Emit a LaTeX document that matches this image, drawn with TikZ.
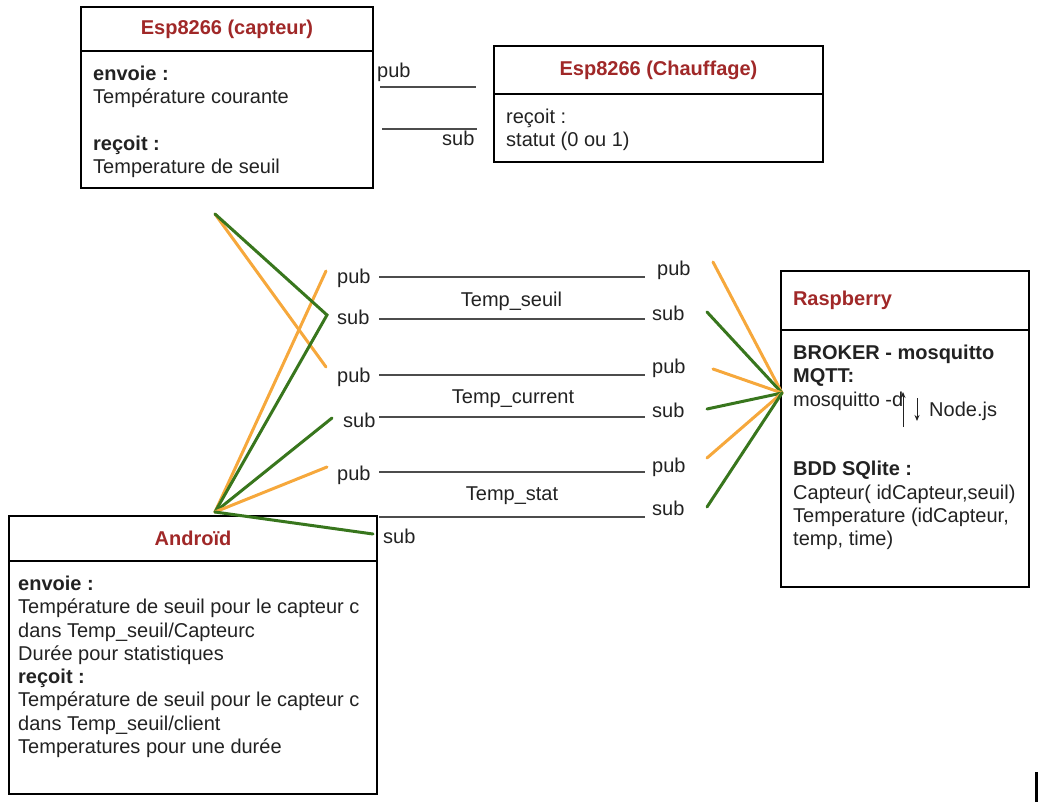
\documentclass[tikz,border=0pt]{standalone}
\usepackage{fontspec}
\setmainfont{Liberation Sans}
\usepackage{xcolor}
\usetikzlibrary{positioning, arrows.meta}

\definecolor{titlered}{RGB}{160,40,40}
\definecolor{puborange}{RGB}{246,168,60}
\definecolor{subgreen}{RGB}{56,118,29}
\definecolor{txtgray}{RGB}{34,34,34}

\begin{document}
\begin{tikzpicture}[
        x=1pt, y=-1pt,
        font=\fontsize{20}{23.3}\selectfont,
        boxhead/.style={rectangle, draw, line width=2.8pt, outer sep=0pt, text=titlered, font=\fontsize{20}{23.3}\selectfont\bfseries},
        boxbody/.style={rectangle, draw, line width=2.8pt, outer sep=0pt},
        boxtext/.style={anchor=north west, align=left, inner sep=0pt, text=txtgray},
        msgtag/.style={anchor=base west, inner sep=0pt, text=txtgray},
        topictag/.style={anchor=base, inner sep=0pt, text=txtgray},
        wire/.style={line width=1.2pt, draw=black!70},
        pubwire/.style={line width=3pt, draw=puborange, line cap=round},
        subwire/.style={line width=3pt, draw=subgreen, line cap=round},
        flow/.style={-{Stealth[length=6pt, width=5pt]}, line width=1pt, draw=txtgray}
    ]
        \useasboundingbox (0,0) rectangle (1038,806);

        % Esp8266 capteur
        \node[boxhead, minimum width=292pt, minimum height=44pt] (capteurhd) at (227,29) {Esp8266 (capteur)};
        \node[boxbody, minimum width=292pt, minimum height=137pt, below=0pt of capteurhd] (capteurbd) {};
        \node[boxtext] (capteurtxt) at (93,65.7) {\textbf{envoie :}\\Température courante\\[23.3pt]\textbf{reçoit :}\\Temperature de seuil};

        % Esp8266 chauffage
        \node[boxhead, minimum width=329pt, minimum height=48pt] (chauffhd) at (658.5,70) {Esp8266 (Chauffage)};
        \node[boxbody, minimum width=329pt, minimum height=68pt, below=0pt of chauffhd] (chauffbd) {};
        \node[boxtext] (chaufftxt) at (506,108.7) {reçoit :\\statut (0 ou 1)};

        % Raspberry
        \node[boxhead, minimum width=248pt, minimum height=59pt, text width=224pt, align=left] (rasphd) at (905,300.5) {Raspberry};
        \node[boxbody, minimum width=248pt, minimum height=257pt, below=0pt of rasphd] (raspbd) {};
        \node[boxtext] (rasptxt) at (793,344.7) {\textbf{BROKER - mosquitto}\\\textbf{MQTT:}\\mosquitto -d\\[46.6pt]\textbf{BDD SQlite :}\\Capteur( idCapteur,seuil)\\Temperature (idCapteur,\\temp, time)};
        \node[msgtag] (nodejs) at (929,416.7) {Node.js};
        \coordinate (upfoot) at (903,427);
        \coordinate (uptip) at (903,392);
        \coordinate (downtop) at (917,398);
        \coordinate (downtip) at (917,421);
        \draw[flow] (upfoot) -- (uptip);
        \draw[flow] (downtop) -- (downtip);

        % Android
        \node[boxhead, minimum width=368pt, minimum height=45pt] (androidhd) at (193,538.5) {Androïd};
        \node[boxbody, minimum width=368pt, minimum height=233pt, below=0pt of androidhd] (androidbd) {};
        \node[boxtext] (androidtxt) at (18,575.7) {\textbf{envoie :}\\Température de seuil pour le capteur c\\dans Temp\_seuil/Capteurc\\Durée pour statistiques\\\textbf{reçoit :}\\Température de seuil pour le capteur c\\dans Temp\_seuil/client\\Temperatures pour une durée};

        % capteur <-> chauffage
        \node[msgtag] (cpub) at (377,77) {pub};
        \node[msgtag] (csub) at (442,145) {sub};
        \coordinate (cpubl) at (380,87);
        \coordinate (cpubr) at (476,87);
        \coordinate (csubl) at (382,129);
        \coordinate (csubr) at (477,129);
        \draw[wire] (cpubl) -- (cpubr);
        \draw[wire] (csubl) -- (csubr);

        % topics
        \node[msgtag] (lpub1) at (337,283) {pub};
        \node[msgtag] (lsub1) at (337,324) {sub};
        \node[msgtag] (lpub2) at (337,382) {pub};
        \node[msgtag] (lsub2) at (343,427) {sub};
        \node[msgtag] (lpub3) at (337,480) {pub};
        \node[msgtag] (lsub3) at (383,543) {sub};
        \node[msgtag] (rpub1) at (657,275) {pub};
        \node[msgtag] (rsub1) at (652,320) {sub};
        \node[msgtag] (rpub2) at (652,373) {pub};
        \node[msgtag] (rsub2) at (652,417) {sub};
        \node[msgtag] (rpub3) at (652,472) {pub};
        \node[msgtag] (rsub3) at (652,515) {sub};
        \node[topictag] (seuil) at (511.5,306.7) {Temp\_seuil};
        \node[topictag] (current) at (513,403) {Temp\_current};
        \node[topictag] (stat) at (512,500) {Temp\_stat};

        \coordinate (w1l) at (379,277);  \coordinate (w1r) at (645,277);
        \coordinate (w2l) at (379,319);  \coordinate (w2r) at (645,319);
        \coordinate (w3l) at (379,375);  \coordinate (w3r) at (645,375);
        \coordinate (w4l) at (379,417);  \coordinate (w4r) at (645,417);
        \coordinate (w5l) at (379,472);  \coordinate (w5r) at (645,472);
        \coordinate (w6l) at (379,517);  \coordinate (w6r) at (645,517);
        \draw[wire] (w1l) -- (w1r);
        \draw[wire] (w2l) -- (w2r);
        \draw[wire] (w3l) -- (w3r);
        \draw[wire] (w4l) -- (w4r);
        \draw[wire] (w5l) -- (w5r);
        \draw[wire] (w6l) -- (w6r);

        % liens clients
        \coordinate (captip) at (215,214);
        \coordinate (andtip) at (215,512);
        \coordinate (rasptip) at (782,393);
        \coordinate (lpub1e) at (326,271);
        \coordinate (lsub1e) at (327,315);
        \coordinate (lpub2e) at (326,367);
        \coordinate (lsub2e) at (332,418);
        \coordinate (lpub3e) at (327,467);
        \coordinate (lsub3e) at (373,534);
        \coordinate (rpub1e) at (713,262);
        \coordinate (rsub1e) at (707,312);
        \coordinate (rpub2e) at (713,369);
        \coordinate (rsub2e) at (707,409);
        \coordinate (rpub3e) at (707,458);
        \coordinate (rsub3e) at (707,507);

        \draw[pubwire] (captip) -- (lpub2e);
        \draw[pubwire] (andtip) -- (lpub1e);
        \draw[subwire] (captip) -- (lsub1e) -- (andtip);
        \draw[subwire] (andtip) -- (lsub2e);
        \draw[pubwire] (andtip) -- (lpub3e);
        \draw[subwire] (andtip) -- (lsub3e);

        \draw[pubwire] (rpub1e) -- (rasptip);
        \draw[subwire] (rsub1e) -- (rasptip);
        \draw[pubwire] (rpub2e) -- (rasptip);
        \draw[subwire] (rsub2e) -- (rasptip);
        \draw[pubwire] (rpub3e) -- (rasptip);
        \draw[subwire] (rsub3e) -- (rasptip);

        \fill (1035,772) rectangle (1038,802);
    \end{tikzpicture}
\end{document}
